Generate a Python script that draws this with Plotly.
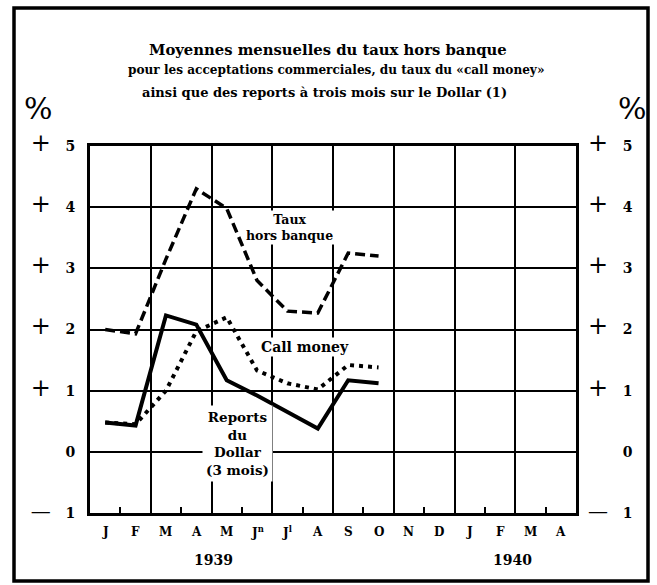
import plotly.graph_objects as go

# ---- data -------------------------------------------------------------
month_labels = ["J", "F", "M", "A", "M", "J<sup>n</sup>", "J<sup>l</sup>", "A",
                "S", "O", "N", "D", "J", "F", "M", "A"]
year_labels = ["1939", "1940"]
year_positions = [4.05, 13.9]          # month index where each year label is centred

data_month_index = [0, 1, 2, 3, 4, 5, 6, 7, 8, 9]   # J 1939 .. O 1939
taux_hors_banque = [2.0, 1.93, 3.15, 4.3, 3.98, 2.8, 2.3, 2.27, 3.25, 3.2]
call_money = [0.48, 0.45, 1.0, 1.97, 2.2, 1.33, 1.12, 1.02, 1.42, 1.38]
reports_dollar = [0.48, 0.43, 2.23, 2.08, 1.17, 0.92, 0.65, 0.38, 1.17, 1.12]

y_ticks = [-1, 0, 1, 2, 3, 4, 5]
y_tick_numbers = ["1", "0", "1", "2", "3", "4", "5"]

title_lines = [
    "Moyennes mensuelles du taux hors banque",
    "pour les acceptations commerciales, du taux du «call money»",
    "ainsi que des reports à trois mois sur le Dollar (1)",
]

# ---- helpers ----------------------------------------------------------
FONT = "DejaVu Serif"
xs = [i + 0.5 for i in data_month_index]
SP = "\u00a0\u00a0\u00a0"


def sign_label(v, n):
    if v > 0:
        return "<span style='font-size:24px;font-weight:normal'>+</span>" + SP + "<b>%s</b>" % n
    if v < 0:
        return "<span style='font-size:20px;font-weight:normal'>—</span>" + SP + "<b>%s</b>" % n
    return ("<span style='font-size:24px;font-weight:normal;color:rgba(0,0,0,0)'>+</span>"
            + SP + "<b>%s</b>" % n)


tick_text = [sign_label(v, n) for v, n in zip(y_ticks, y_tick_numbers)]

fig = go.Figure()

fig.add_trace(go.Scatter(x=xs, y=taux_hors_banque, mode="lines",
                         line=dict(color="black", width=3.5, dash="10px,5px"),
                         showlegend=False, hoverinfo="skip"))
fig.add_trace(go.Scatter(x=xs, y=call_money, mode="lines",
                         line=dict(color="black", width=4, dash="4px,5px"),
                         showlegend=False, hoverinfo="skip"))
fig.add_trace(go.Scatter(x=xs, y=reports_dollar, mode="lines",
                         line=dict(color="black", width=4),
                         showlegend=False, hoverinfo="skip"))
# carrier for the right-hand axis
fig.add_trace(go.Scatter(x=[None], y=[None], yaxis="y2", mode="lines",
                         showlegend=False, hoverinfo="skip"))

tick_font = dict(family=FONT, size=14, weight="bold")

fig.update_layout(
    width=657, height=585,
    margin=dict(l=90, r=81, t=146, b=72),
    paper_bgcolor="white", plot_bgcolor="white",
    font=dict(family=FONT, color="black", size=13),
    xaxis=dict(range=[0, 16], tickvals=list(range(0, 17, 2)), showticklabels=False,
               showgrid=True, gridcolor="black", gridwidth=2.2, zeroline=False,
               showline=True, linecolor="black", linewidth=3, mirror=True, ticks="",
               minor=dict(tickvals=list(range(1, 16, 2)), ticks="inside", ticklen=6,
                          tickwidth=2, tickcolor="black", showgrid=False)),
    yaxis=dict(range=[-1, 5], tickvals=y_ticks, ticktext=tick_text,
               showgrid=True, gridcolor="black", gridwidth=2.2, zeroline=False,
               showline=True, linecolor="black", linewidth=3, mirror=True, ticks="",
               ticklabelstandoff=9, tickfont=tick_font),
    yaxis2=dict(range=[-1, 5], tickvals=y_ticks, ticktext=tick_text, overlaying="y",
                side="right", showgrid=False, zeroline=False, showline=False, ticks="",
                ticklabelstandoff=11, tickfont=tick_font),
)

ann = []
# title
title_y = [(513 - 49) / 367, (513 - 70) / 367, (513 - 92) / 367]
title_x = [(328 - 90) / 486, (336 - 90) / 486, (324 - 90) / 486]
title_size = [14.8, 12.1, 13]
for t, yy, xx, s in zip(title_lines, title_y, title_x, title_size):
    ann.append(dict(text="<b>%s</b>" % t, x=xx, y=yy, xref="paper", yref="paper",
                    xanchor="center", yanchor="middle",
                    showarrow=False, font=dict(family=FONT, size=s)))
# percent signs
for px in [38, 632]:
    ann.append(dict(text="%", x=(px - 90) / 486, y=(513 - 108) / 367, xref="paper",
                    yref="paper", xanchor="center", yanchor="middle", showarrow=False,
                    font=dict(family=FONT, size=30)))
# month labels
for i, m in enumerate(month_labels):
    ann.append(dict(text="<b>%s</b>" % m, x=i + 0.5, y=(513 - 532) / 367, xref="x",
                    yref="paper", xanchor="center", yanchor="middle",
                    showarrow=False, font=dict(family=FONT, size=12)))
for yl, yp in zip(year_labels, year_positions):
    ann.append(dict(text="<b>%s</b>" % yl, x=yp, y=(513 - 560) / 367, xref="x",
                    yref="paper", xanchor="center", yanchor="middle",
                    showarrow=False, font=dict(family=FONT, size=14)))
# series labels
ann.append(dict(text="<b>Taux<br>hors banque</b>", x=6.58, y=3.66, xref="x", yref="y",
                xanchor="center", yanchor="middle",
                showarrow=False, bgcolor="white", borderpad=1,
                font=dict(family=FONT, size=12.5)))
ann.append(dict(text="<b>Call money</b>", x=7.08, y=1.71, xref="x", yref="y",
                xanchor="center", yanchor="middle",
                showarrow=False, bgcolor="white", borderpad=1,
                font=dict(family=FONT, size=14)))
ann.append(dict(text="<b>Reports<br>du<br>Dollar<br>(3 mois)</b>", x=4.84, y=0.14,
                xref="x", yref="y", xanchor="center", yanchor="middle",
                showarrow=False, bgcolor="white", borderpad=3,
                font=dict(family=FONT, size=13.5)))
fig.update_layout(annotations=ann)

# outer frame of the figure
fig.add_shape(type="rect", xref="paper", yref="paper",
              x0=(14 - 90) / 486, x1=(648 - 90) / 486, y0=(513 - 581) / 367,
              y1=(513 - 8) / 367,
              line=dict(color="black", width=3.5), layer="above")

fig.write_html("out.html", config={"displayModeBar": False},
               post_script="document.body.style.margin='0';")
